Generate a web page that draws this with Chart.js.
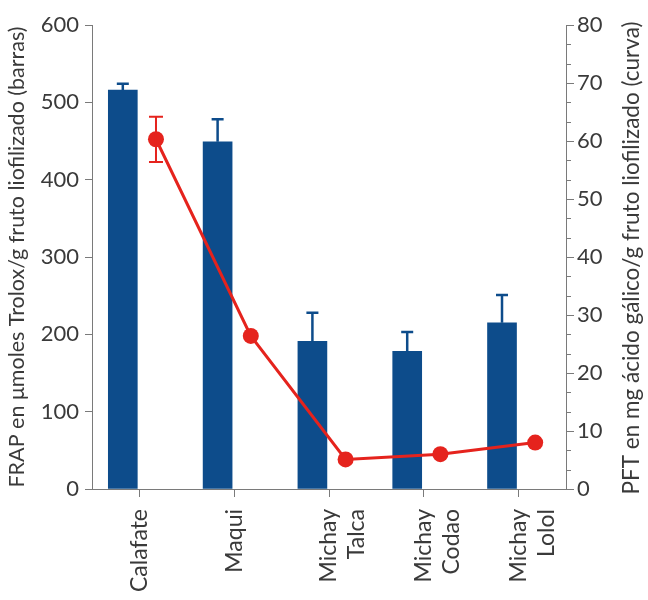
<!DOCTYPE html>
<html>
<head>
<meta charset="utf-8">
<script src="https://cdn.jsdelivr.net/npm/chart.js@4.4.1/dist/chart.umd.min.js"></script>
<style>
html,body{margin:0;padding:0;background:#fff;}
#wrap{width:648px;height:600px;}
</style>
</head>
<body>
<div id="wrap"><canvas id="c" width="648" height="600"></canvas></div>
<script>
// ---- data ----
const categories = [["Calafate"], ["Maqui"], ["Michay", "Talca"], ["Michay", "Codao"], ["Michay", "Lolol"]];
const frapValues = [516, 449, 191, 178, 215];     // bars, left axis
const frapErrors = [8, 29, 37, 25, 36];
const pftValues = [60.3, 26.4, 5.1, 6.0, 8.0];     // curve, right axis
const pftErrors = [3.9, 0, 0, 0, 0];
const leftTicks = [0, 100, 200, 300, 400, 500, 600];
const rightTicks = [0, 10, 20, 30, 40, 50, 60, 70, 80];
const leftTitle = "FRAP en μmoles Trolox/g fruto liofilizado (barras)";
const rightTitle = "PFT en mg ácido gálico/g fruto liofilizado (curva)";

// ---- styling ----
const FONT = "Lato";
const TXT = "#3a3a3a";
const AXIS = "#7a7a7a";
const BAR = "#0d4c8b";
const RED = "#e5231d";
const SHIFT = 0.175; // bar left of category center, point right of it

const barData = frapValues.map((v, i) => ({x: i - SHIFT, y: v}));
const lineData = pftValues.map((v, i) => ({x: i + SHIFT, y: v}));

const errorBars = {
  id: 'errorBars',
  afterDatasetDraw(chart, args) {
    const ds = chart.data.datasets[args.index];
    if (!ds.errors) return;
    const meta = args.meta;
    const ys = chart.scales[meta.yAxisID];
    const ctx = chart.ctx;
    ctx.save();
    ctx.strokeStyle = ds.errorColor;
    ctx.lineWidth = ds.errorWidth;
    meta.data.forEach((el, i) => {
      const e = ds.errors[i];
      if (!e) return;
      const v = ds.data[i].y;
      const x = el.x;
      const yTop = ys.getPixelForValue(v + e);
      const yBot = ds.errorBoth ? ys.getPixelForValue(v - e) : ys.getPixelForValue(v);
      ctx.beginPath();
      ctx.moveTo(x, yBot); ctx.lineTo(x, yTop);
      ctx.moveTo(x - ds.capHalf, yTop); ctx.lineTo(x + ds.capHalf, yTop);
      if (ds.errorBoth) { ctx.moveTo(x - ds.capHalf, yBot); ctx.lineTo(x + ds.capHalf, yBot); }
      ctx.stroke();
    });
    ctx.restore();
  }
};

const extras = {
  id: 'extras',
  afterDraw(chart) {
    const ctx = chart.ctx;
    const y2 = chart.scales.y2;
    ctx.save();
    // minor ticks on right axis
    ctx.strokeStyle = AXIS;
    ctx.lineWidth = 1;
    for (let k = 0; k < rightTicks.length - 1; k++) {
      const a = rightTicks[k], b = rightTicks[k + 1];
      for (let m = 1; m < 3; m++) {
        const v = a + (b - a) * m / 3;
        const py = Math.round(y2.getPixelForValue(v)) + 0.5;
        ctx.beginPath();
        ctx.moveTo(y2.left, py); ctx.lineTo(y2.left + 5, py);
        ctx.stroke();
      }
    }
    // right axis title, reading bottom to top
    ctx.fillStyle = TXT;
    ctx.font = "22.5px " + FONT;
    ctx.textAlign = 'center';
    ctx.textBaseline = 'middle';
    ctx.translate(632, (chart.chartArea.top + chart.chartArea.bottom) / 2 + 1);
    ctx.rotate(-Math.PI / 2);
    ctx.fillText(rightTitle, 0, 0);
    ctx.restore();
  }
};

new Chart(document.getElementById('c'), {
  data: {
    labels: categories,
    datasets: [
      {
        type: 'line', label: 'PFT', data: lineData, xAxisID: 'xp', yAxisID: 'y2',
        borderColor: RED, backgroundColor: RED, borderWidth: 3,
        pointRadius: 8, pointHoverRadius: 8, pointBorderWidth: 0,
        errors: pftErrors, errorColor: RED, errorWidth: 2, capHalf: 7, errorBoth: true,
        order: 0
      },
      {
        type: 'bar', label: 'FRAP', data: barData, xAxisID: 'xp', yAxisID: 'y',
        backgroundColor: BAR, borderWidth: 0, barThickness: 29,
        errors: frapErrors, errorColor: BAR, errorWidth: 2.5, capHalf: 6, errorBoth: false,
        order: 1
      }
    ]
  },
  options: {
    responsive: false,
    animation: false,
    events: [],
    layout: {padding: {top: 25, left: 0, right: 0, bottom: 0}},
    plugins: {legend: {display: false}, tooltip: {enabled: false}},
    scales: {
      xp: {type: 'linear', min: -0.5, max: 4.5, offset: false, display: false},
      x: {
        type: 'category', position: 'bottom', offset: true,
        grid: {display: true, drawOnChartArea: false, drawTicks: true, tickLength: 8, color: AXIS},
        border: {display: true, color: AXIS, width: 1},
        ticks: {color: TXT, font: {family: FONT, size: 23}, minRotation: 90, maxRotation: 90, padding: 12, autoSkip: false},
        afterFit(s) { s.height = 111; }
      },
      y: {
        type: 'linear', position: 'left', min: 0, max: 600,
        afterBuildTicks(s) { s.ticks = leftTicks.map(v => ({value: v})); },
        grid: {display: true, drawOnChartArea: false, drawTicks: true, tickLength: 7, color: AXIS},
        border: {display: true, color: AXIS, width: 1},
        ticks: {color: TXT, font: {family: FONT, size: 22}, padding: 6},
        title: {display: true, text: leftTitle, color: TXT, font: {family: FONT, size: 21.5}, padding: {top: 4, bottom: 2}},
        afterFit(s) { s.width = 92; }
      },
      y2: {
        type: 'linear', position: 'right', min: 0, max: 80,
        afterBuildTicks(s) { s.ticks = rightTicks.map(v => ({value: v})); },
        grid: {display: true, drawOnChartArea: false, drawTicks: true, tickLength: 8, color: AXIS},
        border: {display: true, color: AXIS, width: 1},
        ticks: {color: TXT, font: {family: FONT, size: 22}, padding: 3},
        afterFit(s) { s.width = 82; }
      }
    }
  },
  plugins: [errorBars, extras]
});
</script>
</body>
</html>
